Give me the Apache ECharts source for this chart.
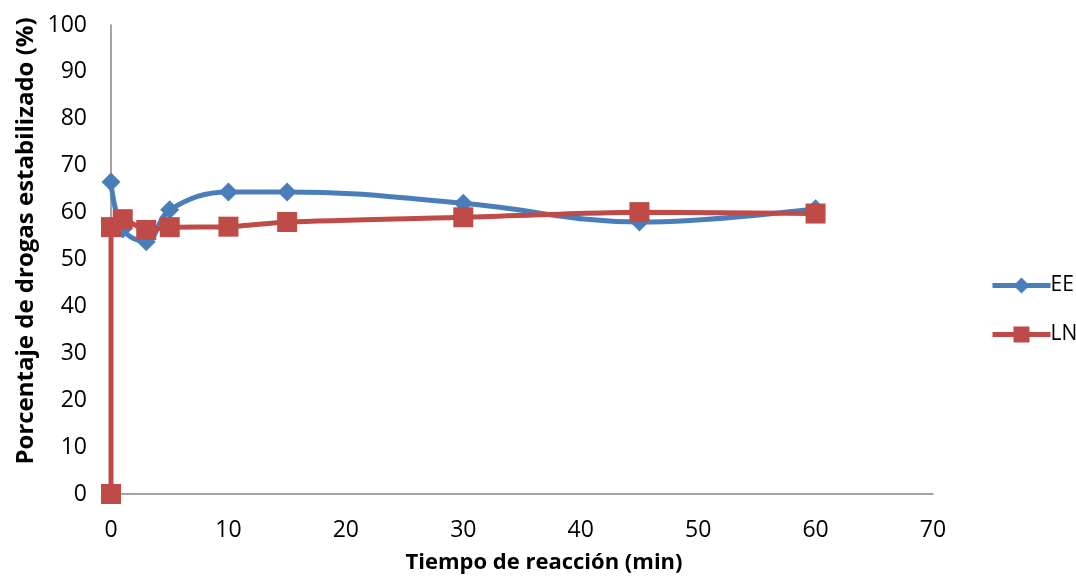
<!DOCTYPE html>
<html>
<head>
<meta charset="utf-8">
<script src="https://cdn.jsdelivr.net/npm/echarts@6/dist/echarts.min.js"></script>
<style>
  html, body { margin: 0; padding: 0; background: #ffffff; }
  #chart { width: 1076px; height: 578px; }
</style>
</head>
<body>
<div id="chart"></div>
<script>
// Reaction time (min) and stabilised drug percentage for each formulation
const timeEE = [0, 1, 3, 5, 10, 15, 30, 45, 60];
const valuesEE = [66.5, 56.5, 53.8, 60.6, 64.4, 64.4, 62.0, 58.0, 60.8];
const timeLN = [0, 0, 1, 3, 5, 10, 15, 30, 45, 60];
const valuesLN = [0, 56.9, 58.6, 56.3, 56.9, 57.0, 58.0, 59.0, 60.1, 59.8];

const xTicks = { min: 0, max: 70, interval: 10 };
const yTicks = { min: 0, max: 100, interval: 10 };

const FONT = '"Open Sans", "Liberation Sans", sans-serif';
const BLUE = '#4A7EBB';
const RED = '#BE4B48';

const pairs = (xs, ys) => xs.map((x, i) => [x, ys[i]]);

const chart = echarts.init(document.getElementById('chart'), null, { renderer: 'canvas' });

chart.setOption({
  animation: false,
  backgroundColor: '#ffffff',
  grid: { left: 111, right: 143, top: 25, bottom: 84, containLabel: false, outerBoundsMode: 'none' },
  legend: {
    orient: 'vertical',
    left: 985,
    top: 270,
    itemWidth: 58,
    itemHeight: 20,
    itemGap: 28,
    lineStyle: { width: 5 },
    textStyle: { fontFamily: FONT, fontSize: 21, color: '#000000', padding: [0, 0, 0, -5] },
    data: ['EE', 'LN']
  },
  graphic: [
    {
      type: 'text',
      x: 544, y: 563,
      style: {
        text: 'Tiempo de reacción (min)',
        font: 'bold 22px ' + FONT,
        fill: '#000000',
        align: 'center',
        verticalAlign: 'middle'
      }
    },
    {
      type: 'text',
      x: 26, y: 241,
      rotation: Math.PI / 2,
      style: {
        text: 'Porcentaje de drogas estabilizado (%)',
        font: 'bold 24px ' + FONT,
        fill: '#000000',
        align: 'center',
        verticalAlign: 'middle'
      }
    }
  ],
  xAxis: {
    type: 'value',
    min: xTicks.min, max: xTicks.max, interval: xTicks.interval,
    axisLine: { show: true, lineStyle: { color: '#868686', width: 1.5 } },
    axisTick: { show: false },
    splitLine: { show: false },
    axisLabel: { fontFamily: FONT, fontSize: 23, color: '#000000', margin: 25 }
  },
  yAxis: {
    type: 'value',
    min: yTicks.min, max: yTicks.max, interval: yTicks.interval,
    axisLine: { show: true, lineStyle: { color: '#868686', width: 1.5 } },
    axisTick: { show: false },
    splitLine: { show: false },
    axisLabel: { fontFamily: FONT, fontSize: 23, color: '#000000', margin: 24 }
  },
  series: [
    {
      name: 'EE',
      type: 'line',
      data: pairs(timeEE, valuesEE),
      smooth: 0.4,
      symbol: 'diamond',
      symbolSize: 19,
      lineStyle: { color: BLUE, width: 5 },
      itemStyle: { color: BLUE },
      z: 2
    },
    {
      name: 'LN',
      type: 'line',
      data: pairs(timeLN, valuesLN),
      smooth: 0.25,
      symbol: 'rect',
      symbolSize: 20,
      lineStyle: { color: RED, width: 5 },
      itemStyle: { color: RED },
      z: 3
    }
  ]
});
</script>
</body>
</html>
